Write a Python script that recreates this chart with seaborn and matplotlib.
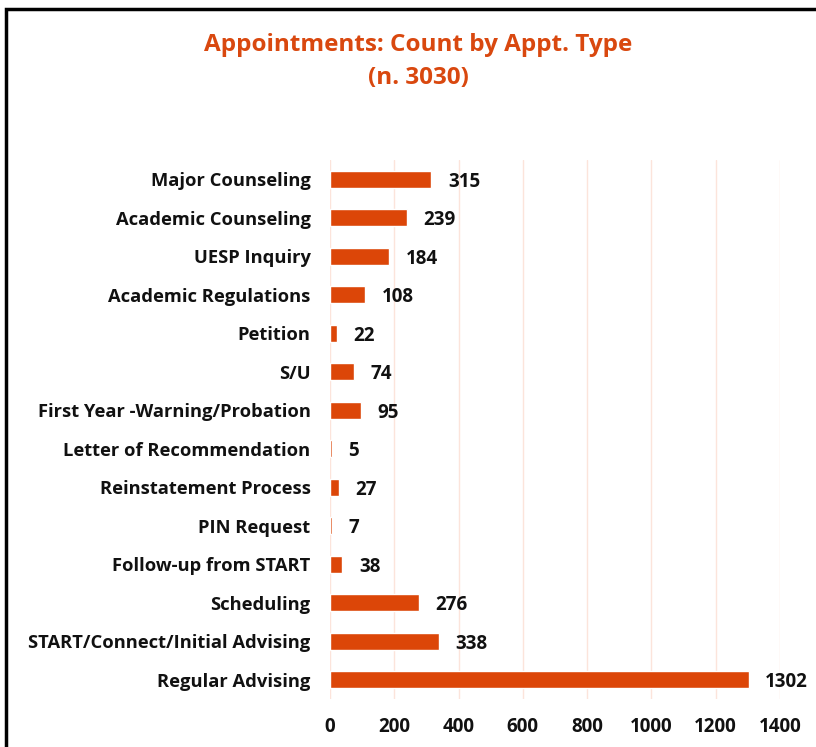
import numpy as np
import pandas as pd
import matplotlib
matplotlib.use("Agg")
import matplotlib.pyplot as plt
import seaborn as sns
from matplotlib.patches import Rectangle

appt_types = ["Major Counseling", "Academic Counseling", "UESP Inquiry", "Academic Regulations",
              "Petition", "S/U", "First Year -Warning/Probation", "Letter of Recommendation",
              "Reinstatement Process", "PIN Request", "Follow-up from START", "Scheduling",
              "START/Connect/Initial Advising", "Regular Advising"]
counts = [315, 239, 184, 108, 22, 74, 95, 5, 27, 7, 38, 276, 338, 1302]
x_ticks = [0, 200, 400, 600, 800, 1000, 1200, 1400]

orange = "#DC4608"
title_col = "#D9480F"

sns.set_theme(style="white")
plt.rcParams['font.family'] = ['Open Sans', 'DejaVu Sans']

df = pd.DataFrame({"type": appt_types, "count": counts})

fig = plt.figure(figsize=(8.16, 7.47), dpi=100)
ax = fig.add_axes([330/816, 1-699/747, 450/816, 539/747])

sns.barplot(data=df, x="count", y="type", color=orange, width=0.44, ax=ax, saturation=1)

ax.set_xlim(0, 1400)
ax.set_xticks(x_ticks)
ax.set_xticklabels([str(t) for t in x_ticks], fontsize=13.5, fontweight="bold", color="#111111")
ax.tick_params(axis="x", pad=13, length=0)
ax.tick_params(axis="y", pad=14, length=0)
for lab in ax.get_yticklabels():
    lab.set_fontsize(13.2)
    lab.set_fontweight("bold")
    lab.set_color("#111111")
ax.set_xlabel("")
ax.set_ylabel("")
ax.grid(axis="x", color="#FCE4DB", linewidth=1.0)
ax.set_axisbelow(True)
for s in ax.spines.values():
    s.set_visible(False)

for c in ax.containers:
    labs = ax.bar_label(c, labels=[str(v) for v in counts], padding=12, fontsize=13.5,
                        fontweight="bold", color="#111111")
    for t in labs:
        t.set_va("center_baseline")

fig.text(418/816, 1-45/747, "Appointments: Count by Appt. Type", ha="center", va="center",
         fontsize=17.5, fontweight="bold", color=title_col)
fig.text(418/816, 1-78/747, "(n. 3030)", ha="center", va="center",
         fontsize=17.5, fontweight="bold", color=title_col)

fig.patches.append(Rectangle((6/816, -0.1), 2, 1 - 9/747 + 0.1, transform=fig.transFigure,
                             fill=False, edgecolor="black", linewidth=2.5))

fig.savefig("out.png", dpi=100)
